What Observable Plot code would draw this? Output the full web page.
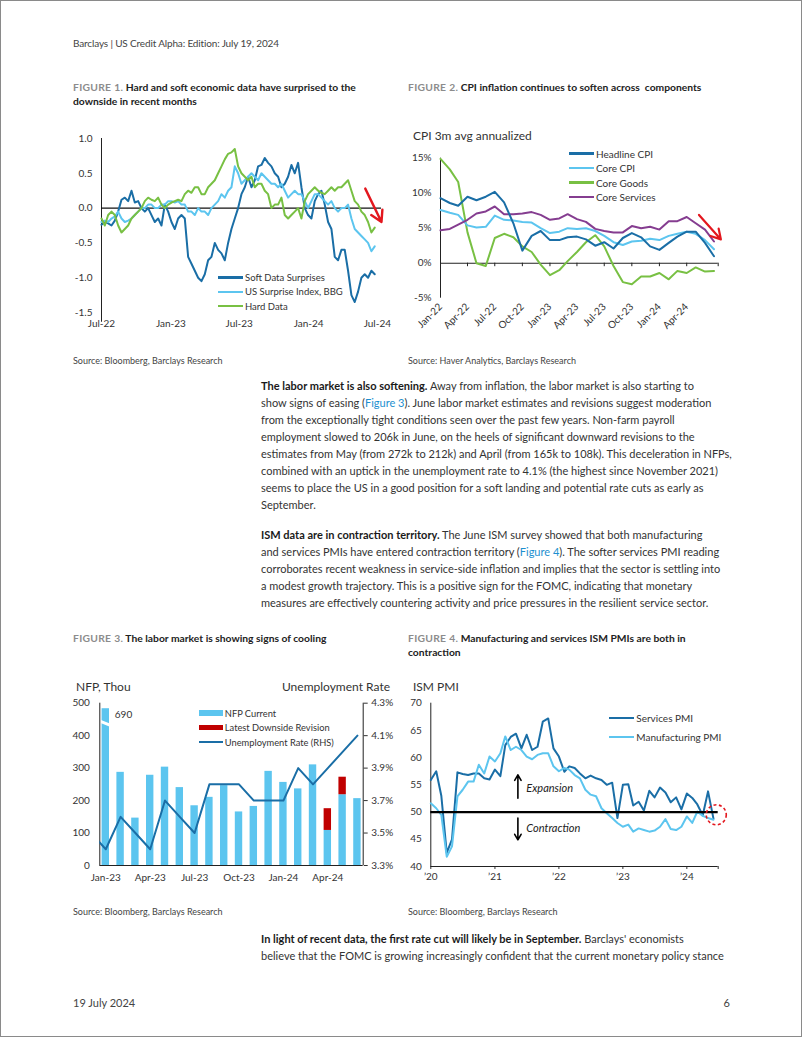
<!DOCTYPE html>
<html>
<head>
<meta charset="utf-8">
<script src="https://cdn.jsdelivr.net/npm/d3@7"></script>
<script src="https://cdn.jsdelivr.net/npm/@observablehq/plot@0.6"></script>
<style>
html, body { margin:0; padding:0; background:#fff; }
#page { position:relative; width:802px; height:1037px; box-sizing:border-box; border:1px solid #8a8a8a; overflow:hidden; font-family:Lato, "Open Sans", sans-serif; color:#333; background:#fff; }
.t { position:absolute; white-space:nowrap; }
.hdr { font-size:10px; letter-spacing:-0.15px; color:#444; line-height:14px; }
.ftitle { font-size:10.3px; font-weight:700; color:#222; line-height:14px; }
.ftitle .fig { color:#8c8c8c; letter-spacing:0.3px; }
.src { font-size:9px; color:#444; line-height:12px; }
.body { font-size:11px; line-height:17px; color:#333; }
.body b { color:#1a1a1a; }
.body a { color:#1d8fcf; text-decoration:none; }
.chart { position:absolute; }
.axt { font-size:12px; color:#333; line-height:14px; }
.legend { position:absolute; color:#333; }
.legend .row { display:flex; align-items:center; white-space:nowrap; }
.legend .sw { display:inline-block; margin-right:2px; }
</style>
</head>
<body>
<div id="page">
  <div class="t hdr" style="left:72px;top:35px;">Barclays | US Credit Alpha: Edition: July 19, 2024</div>

  <div class="t ftitle" style="left:72px;top:79px;"><span class="fig">FIGURE 1.</span> Hard and soft economic data have surprised to the<br>downside in recent months</div>
  <div class="t ftitle" style="left:407px;top:79px;"><span class="fig">FIGURE 2.</span> CPI inflation continues to soften across&nbsp; components</div>
  <div class="t axt" style="left:412px;top:128px;">CPI 3m avg annualized</div>

  <div class="t src" style="left:72px;top:354px;">Source: Bloomberg, Barclays Research</div>
  <div class="t src" style="left:407px;top:354px;">Source: Haver Analytics, Barclays Research</div>

  <div class="t body" style="left:260px;top:376px;"><b>The labor market is also softening.</b> Away from inflation, the labor market is also starting to<br>show signs of easing (<a>Figure 3</a>). June labor market estimates and revisions suggest moderation<br>from the exceptionally tight conditions seen over the past few years. Non-farm payroll<br>employment slowed to 206k in June, on the heels of significant downward revisions to the<br>estimates from May (from 272k to 212k) and April (from 165k to 108k). This deceleration in NFPs,<br>combined with an uptick in the unemployment rate to 4.1% (the highest since November 2021)<br>seems to place the US in a good position for a soft landing and potential rate cuts as early as<br>September.</div>

  <div class="t body" style="left:260px;top:525px;"><b>ISM data are in contraction territory.</b> The June ISM survey showed that both manufacturing<br>and services PMIs have entered contraction territory (<a>Figure 4</a>). The softer services PMI reading<br>corroborates recent weakness in service-side inflation and implies that the sector is settling into<br>a modest growth trajectory. This is a positive sign for the FOMC, indicating that monetary<br>measures are effectively countering activity and price pressures in the resilient service sector.</div>

  <div class="t ftitle" style="left:72px;top:630px;"><span class="fig">FIGURE 3.</span> The labor market is showing signs of cooling</div>
  <div class="t ftitle" style="left:407px;top:630px;"><span class="fig">FIGURE 4.</span> Manufacturing and services ISM PMIs are both in<br>contraction</div>
  <div class="t axt" style="left:75px;top:679px;">NFP, Thou</div>
  <div class="t axt" style="right:411px;top:679px;">Unemployment Rate</div>
  <div class="t axt" style="left:412px;top:679px;">ISM PMI</div>

  <div class="t src" style="left:72px;top:905px;">Source: Bloomberg, Barclays Research</div>
  <div class="t src" style="left:407px;top:905px;">Source: Bloomberg, Barclays Research</div>

  <div class="t body" style="left:260px;top:929px;"><b>In light of recent data, the first rate cut will likely be in September.</b> Barclays' economists<br>believe that the FOMC is growing increasingly confident that the current monetary policy stance</div>

  <div class="t" style="left:72px;top:995px;font-size:11px;color:#444;">19 July 2024</div>
  <div class="t" style="right:71px;top:995px;font-size:11px;color:#444;">6</div>

  <div id="fig1" class="chart" style="left:60px;top:120px;"></div>
  <div id="fig2" class="chart" style="left:400px;top:140px;"></div>
  <div id="fig3" class="chart" style="left:60px;top:690px;"></div>
  <div id="fig4" class="chart" style="left:400px;top:695px;"></div>
</div>

<script>
// ---------------- DATA ----------------
const COLORS = {dark: "#1a6ea6", light: "#5cc5ef", green: "#78c043", purple: "#853d90", red: "#e3171e", revision: "#c00000"};

// Figure 1: surprise indices, sampled roughly every 9 days from Jul-2022
const fig1Start = "2022-07-01";
const fig1StepDays = 8.83;
const fig1XDomain = ["2022-07-01", "2024-07-12"];
const fig1TickLabels = ["Jul-22", "Jan-23", "Jul-23", "Jan-24", "Jul-24"];
const fig1YTicks = [-1.5, -1.0, -0.5, 0.0, 0.5, 1.0];
const fig1Series = ["Soft Data Surprises", "US Surprise Index, BBG", "Hard Data"];
const softData = [-0.24,-0.2,-0.22,-0.25,-0.18,-0.05,0.12,0.15,0.1,0.25,
  0.08,0.1,0.0,-0.05,0.0,-0.1,-0.2,-0.15,-0.25,0.05,
  -0.05,-0.2,-0.3,-0.15,-0.1,-0.15,-0.7,-0.8,-0.9,-1.0,
  -1.05,-0.95,-0.75,-0.7,-0.5,-0.6,-0.65,-0.75,-0.5,-0.3,
  -0.15,0.0,0.2,0.3,0.45,0.3,0.4,0.6,0.62,0.72,
  0.65,0.6,0.5,0.45,0.3,0.35,0.45,0.62,0.5,0.65,
  0.3,0.0,-0.1,-0.15,0.1,0.2,0.25,0.05,-0.2,-0.3,
  -0.7,-0.75,-0.6,-0.6,-0.9,-1.25,-1.35,-1.2,-1.0,-0.95,
  -1.0,-0.9,-0.95];
const usSurprise = [-0.2,-0.18,-0.2,-0.15,-0.12,-0.05,-0.15,-0.2,-0.18,-0.15,
  -0.1,-0.05,0.0,0.0,0.05,0.05,0.0,0.0,0.05,0.05,
  0.1,0.1,0.08,0.1,0.05,0.05,-0.05,-0.05,-0.1,0.0,
  -0.05,-0.05,-0.1,0.0,0.05,0.1,0.2,0.15,0.25,0.3,
  0.6,0.5,0.35,0.4,0.45,0.5,0.45,0.4,0.5,0.45,
  0.4,0.35,0.35,0.3,0.35,0.25,0.15,0.2,0.25,0.2,
  0.2,0.1,0.0,0.1,0.2,0.2,0.15,0.1,0.05,0.1,
  0.0,-0.05,0.0,0.0,0.05,-0.15,-0.3,-0.35,-0.4,-0.45,
  -0.5,-0.62,-0.55];
const hardData = [-0.15,-0.25,-0.1,-0.05,-0.1,-0.25,-0.35,-0.3,-0.25,-0.15,
  -0.1,-0.05,0.0,0.1,0.15,0.12,0.1,0.15,0.05,0.0,
  0.05,0.08,0.1,0.12,0.1,0.2,0.25,0.22,0.3,0.3,
  0.2,0.2,0.3,0.35,0.4,0.5,0.6,0.7,0.78,0.8,
  0.85,0.6,0.5,0.45,0.4,0.45,0.3,0.35,0.35,0.25,
  0.2,0.0,0.05,0.05,0.15,-0.1,-0.15,-0.1,-0.05,0.0,
  -0.15,0.1,0.2,0.25,0.3,0.25,0.22,0.2,0.25,0.3,
  0.25,0.3,0.3,0.35,0.4,0.25,0.1,0.05,-0.05,-0.1,
  -0.2,-0.35,-0.28];
const fig1Arrow = {x1: "2024-05-30", y1: 0.28, x2: "2024-07-12", y2: -0.2};

// Figure 2: CPI 3m avg annualized, monthly Jan-22 .. Jul-24
const fig2Start = "2022-01-01";
const fig2XDomain = ["2022-01-01", "2024-07-15"];
const fig2TickLabels = ["Jan-22","Apr-22","Jul-22","Oct-22","Jan-23","Apr-23","Jul-23","Oct-23","Jan-24","Apr-24"];
const fig2YTicks = [-5, 0, 5, 10, 15];
const fig2Series = ["Headline CPI", "Core CPI", "Core Goods", "Core Services"];
const headlineCPI = [9.3,8.6,8.2,9.5,9.0,9.5,10.2,8.7,5.7,1.8,3.9,4.6,3.3,3.3,3.7,3.8,3.4,2.5,3.0,2.1,3.6,4.3,3.7,2.4,1.9,2.9,3.8,4.5,4.5,2.9,1.0];
const coreCPI = [7.6,7.2,6.9,5.4,5.1,5.2,6.8,6.2,6.1,5.9,5.8,5.0,4.3,4.5,5.0,4.9,5.0,4.6,3.9,3.0,2.6,3.1,3.2,3.5,3.3,3.9,4.2,4.5,4.2,3.3,2.0];
const coreGoods = [14.9,13.4,11.6,4.4,0.0,-0.4,3.6,4.2,3.7,2.4,1.6,-0.2,-1.7,-1.0,0.3,1.6,3.0,4.0,2.4,-0.4,-2.7,-3.0,-1.9,-1.9,-1.4,-2.3,-1.1,-1.4,-0.6,-1.2,-1.1];
const coreServices = [4.7,4.9,5.5,6.2,7.1,7.4,8.1,7.0,7.0,7.1,7.3,6.9,6.2,6.4,7.0,6.3,5.9,4.9,4.6,4.4,4.4,5.3,5.0,5.2,4.8,6.0,6.0,6.6,5.7,4.8,3.1];
const fig2Arrow = {x1: "2024-05-12", y1: 6.9, x2: "2024-07-24", y2: 3.4};

// Figure 3: NFP (thousands) and unemployment rate
const nfpMonths = ["Jan-23","Feb-23","Mar-23","Apr-23","May-23","Jun-23","Jul-23","Aug-23","Sep-23","Oct-23","Nov-23","Dec-23","Jan-24","Feb-24","Mar-24","Apr-24","May-24","Jun-24"];
const nfpCurrent = [690,287,146,278,303,240,184,210,246,165,182,290,256,236,310,108,218,206];
const revisionMonths = ["Apr-24", "May-24"];
const revisionFrom = [175, 272];
const nfpBrokenBarTop = 483;      // bar drawn with an axis break
const nfpBreak = [445, 430];      // break band on the broken bar
const urMonths = ["Dec-22"].concat(nfpMonths);
const unemploymentRate = [3.5,3.4,3.6,3.5,3.4,3.7,3.6,3.5,3.8,3.8,3.8,3.7,3.7,3.7,3.9,3.8,3.9,4.0,4.1];
const nfpYTicks = [0, 100, 200, 300, 400, 500];
const urTicks = [3.3, 3.5, 3.7, 3.9, 4.1, 4.3];
const nfpTickMonths = ["Jan-23","Apr-23","Jul-23","Oct-23","Jan-24","Apr-24"];
const fig3Series = ["NFP Current", "Latest Downside Revision", "Unemployment Rate (RHS)"];

// Figure 4: ISM PMIs monthly Jan-2020 .. Jun-2024
const fig4Start = "2020-01-01";
const fig4XDomain = ["2020-01-01", "2024-06-28"];
const fig4TickYears = ["2020","2021","2022","2023","2024"];
const fig4YTicks = [40, 45, 50, 55, 60, 65, 70];
const fig4Series = ["Services PMI", "Manufacturing PMI"];
const servicesPMI = [55.9,57.5,53.0,42.5,45.0,57.3,57.0,56.8,57.1,57.1,56.2,56.0,
  57.8,56.6,62.3,63.8,64.4,61.7,64.2,61.4,62.0,66.6,67.2,61.7,
  60.2,57.4,58.4,58.1,57.1,56.2,56.7,56.2,55.9,55.0,55.4,48.9,
  55.0,55.1,51.2,51.9,50.3,53.9,52.7,54.5,53.6,51.8,52.7,50.5,
  53.4,52.6,51.4,49.4,53.8,48.8];
const manufacturingPMI = [51.6,50.7,49.5,41.8,43.7,52.9,54.1,55.6,55.6,58.7,57.1,60.2,
  59.3,60.8,63.9,61.4,62.0,61.4,60.2,59.7,60.5,60.8,60.8,58.4,
  57.5,58.1,57.8,56.8,56.2,54.1,53.2,52.9,50.7,49.8,48.9,48.0,
  47.3,47.7,46.4,47.0,46.7,46.4,46.6,47.3,48.7,46.9,46.7,47.3,
  49.2,48.0,50.1,49.3,48.9,48.6];
const fig4Notes = [
  {label: "Expansion", x: "2021-06-29", y: 54.4, arrowFrom: 52.55, arrowTo: 56.85},
  {label: "Contraction", x: "2021-06-29", y: 47.0, arrowFrom: 48.88, arrowTo: 44.9}
];
const fig4NoteArrowX = "2021-05-12";
const fig4Circle = {x: "2024-06-17", y: 49.5};

// ---------------- HELPERS ----------------
const D = s => new Date(s + "T00:00:00Z");
const parseMonY = d3.utcParse("%b-%y");
const fmtMonY = d3.utcFormat("%b-%y");
const baseStyle = {fontFamily: "Lato, sans-serif", fontSize: "10px", color: "#333", background: "transparent", overflow: "visible"};
const page = document.getElementById("page");

function addLegend(left, top, rowH, fontSize, swW, items) {
  const box = document.createElement("div");
  box.className = "legend";
  box.style.left = left + "px";
  box.style.top = top + "px";
  box.style.fontSize = fontSize + "px";
  for (const it of items) {
    const row = document.createElement("div");
    row.className = "row";
    row.style.height = rowH + "px";
    const sw = document.createElement("span");
    sw.className = "sw";
    sw.style.width = swW + "px";
    sw.style.height = it.h + "px";
    sw.style.background = it.color;
    row.appendChild(sw);
    row.appendChild(document.createTextNode(it.label));
    box.appendChild(row);
  }
  page.appendChild(box);
}

// ---------------- FIGURE 1 ----------------
{
  const t0 = D(fig1Start);
  const rows = softData.map((v, i) => ({
    date: new Date(+t0 + i * fig1StepDays * 864e5),
    soft: v, us: usSurprise[i], hard: hardData[i]
  }));
  const chart = Plot.plot({
    width: 340, height: 215,
    marginLeft: 40, marginRight: 20, marginTop: 17, marginBottom: 24,
    style: baseStyle,
    x: {type: "utc", domain: fig1XDomain.map(D), label: null},
    y: {domain: [-1.5, 1.0], label: null},
    marks: [
      Plot.axisX({ticks: fig1TickLabels.map(parseMonY), tickFormat: fmtMonY, tickSize: 0, tickPadding: 7}),
      Plot.axisY({ticks: fig1YTicks, tickFormat: v => v.toFixed(1), tickSize: 0, tickPadding: 9}),
      Plot.ruleX([D(fig1XDomain[0])], {y1: -1.64, y2: 1.0, stroke: "#222", strokeWidth: 1}),
      Plot.ruleY([0], {stroke: "#111", strokeWidth: 1.3}),
      Plot.line(rows, {x: "date", y: "soft", stroke: COLORS.dark, strokeWidth: 2}),
      Plot.line(rows, {x: "date", y: "us", stroke: COLORS.light, strokeWidth: 2}),
      Plot.line(rows, {x: "date", y: "hard", stroke: COLORS.green, strokeWidth: 2}),
      Plot.arrow([fig1Arrow], {x1: d => D(d.x1), y1: "y1", x2: d => D(d.x2), y2: "y2", stroke: COLORS.red, strokeWidth: 2.4, headLength: 9})
    ]
  });
  document.getElementById("fig1").appendChild(chart);
  addLegend(217, 269.5, 14.3, 9.5, 25, [
    {label: fig1Series[0], color: COLORS.dark, h: 2.5},
    {label: fig1Series[1], color: COLORS.light, h: 2.5},
    {label: fig1Series[2], color: COLORS.green, h: 2.5}
  ]);
}

// ---------------- FIGURE 2 ----------------
{
  const months = d3.utcMonth.range(D(fig2Start), d3.utcMonth.offset(D(fig2Start), headlineCPI.length));
  const rows = months.map((m, i) => ({date: m, headline: headlineCPI[i], core: coreCPI[i], goods: coreGoods[i], services: coreServices[i]}));
  const ticks = fig2TickLabels.map(parseMonY);
  const chart = Plot.plot({
    width: 340, height: 200,
    marginLeft: 39, marginRight: 23.3, marginTop: 16.7, marginBottom: 43.3,
    style: baseStyle,
    x: {type: "utc", domain: fig2XDomain.map(D), label: null},
    y: {domain: [-5, 15], label: null},
    marks: [
      Plot.axisX({ticks, tickFormat: fmtMonY, tickRotate: -45, tickSize: 0, tickPadding: 7}),
      Plot.axisY({ticks: fig2YTicks, tickFormat: v => v + "%", tickSize: 0, tickPadding: 9}),
      Plot.ruleX([D(fig2XDomain[0])], {y1: -5, y2: 15, stroke: "#222"}),
      Plot.ruleY([0], {stroke: "#222", strokeWidth: 1.1}),
      Plot.ruleX(ticks.concat([D(fig2XDomain[1])]), {y1: 0, y2: -0.5, stroke: "#222"}),
      Plot.line(rows, {x: "date", y: "goods", stroke: COLORS.green, strokeWidth: 2}),
      Plot.line(rows, {x: "date", y: "core", stroke: COLORS.light, strokeWidth: 2}),
      Plot.line(rows, {x: "date", y: "services", stroke: COLORS.purple, strokeWidth: 2}),
      Plot.line(rows, {x: "date", y: "headline", stroke: COLORS.dark, strokeWidth: 2}),
      Plot.arrow([fig2Arrow], {x1: d => D(d.x1), y1: "y1", x2: d => D(d.x2), y2: "y2", stroke: COLORS.red, strokeWidth: 2.2, headLength: 8})
    ]
  });
  document.getElementById("fig2").appendChild(chart);
  addLegend(568, 145.3, 14.5, 10, 25, [
    {label: fig2Series[0], color: COLORS.dark, h: 2.5},
    {label: fig2Series[1], color: COLORS.light, h: 2.5},
    {label: fig2Series[2], color: COLORS.green, h: 2.5},
    {label: fig2Series[3], color: COLORS.purple, h: 2.5}
  ]);
}

// ---------------- FIGURE 3 ----------------
{
  const urToY = d3.scaleLinear().domain([urTicks[0], urTicks[urTicks.length - 1]]).range([0, 500]);
  const xDomain = [-0.405, 17.39];
  const bars = nfpMonths.map((m, i) => ({i, m, v: nfpCurrent[i]}));
  const revs = revisionMonths.map((m, k) => {
    const i = nfpMonths.indexOf(m);
    return {i, from: revisionFrom[k], to: nfpCurrent[i]};
  });
  const ur = urMonths.map((m, k) => ({i: k - 1, v: unemploymentRate[k]}));
  const broken = bars.filter(b => b.v > nfpYTicks[nfpYTicks.length - 1]);
  const chart = Plot.plot({
    width: 340, height: 200,
    marginLeft: 38.3, marginRight: 38.3, marginTop: 11.7, marginBottom: 26,
    style: baseStyle,
    x: {type: "linear", domain: xDomain, label: null},
    y: {domain: [0, 500], label: null},
    marks: [
      Plot.axisX({ticks: nfpTickMonths.map(m => nfpMonths.indexOf(m)), tickFormat: i => nfpMonths[i], tickSize: 0, tickPadding: 8}),
      Plot.axisY({ticks: nfpYTicks, tickSize: 0, tickPadding: 10}),
      Plot.axisY(urTicks.map(v => urToY(v)), {anchor: "right", tickFormat: y => urToY.invert(y).toFixed(1) + "%", tickSize: 4, tickPadding: 4}),
      Plot.rect(bars, {x1: d => d.i - 0.25, x2: d => d.i + 0.25, y1: 0, y2: d => Math.min(d.v, nfpBrokenBarTop), fill: COLORS.light}),
      Plot.rect(revs, {x1: d => d.i - 0.25, x2: d => d.i + 0.25, y1: "to", y2: "from", fill: COLORS.revision}),
      Plot.link(broken, {x1: d => d.i - 0.4, x2: d => d.i + 0.4, y1: nfpBreak[0], y2: nfpBreak[1], stroke: "#fff", strokeWidth: 3}),
      Plot.text(broken, {x: "i", y: nfpBrokenBarTop, text: d => String(d.v), dx: 9, dy: 6, textAnchor: "start", fontSize: 10, fill: "#333"}),
      Plot.ruleX([xDomain[0], xDomain[1]], {y1: 0, y2: 500, stroke: "#222"}),
      Plot.ruleY([0], {stroke: "#222"}),
      Plot.line(ur, {x: "i", y: d => urToY(d.v), stroke: COLORS.dark, strokeWidth: 2, clip: true})
    ]
  });
  document.getElementById("fig3").appendChild(chart);
  addLegend(198.3, 704.8, 14.5, 9.3, 23.5, [
    {label: fig3Series[0], color: COLORS.light, h: 5.5},
    {label: fig3Series[1], color: COLORS.revision, h: 5.5},
    {label: fig3Series[2], color: COLORS.dark, h: 2.2}
  ]);
}

// ---------------- FIGURE 4 ----------------
{
  const months = d3.utcMonth.range(D(fig4Start), d3.utcMonth.offset(D(fig4Start), servicesPMI.length));
  const rows = months.map((m, i) => ({date: m, services: servicesPMI[i], manuf: manufacturingPMI[i]}));
  const yearTicks = fig4TickYears.map(y => D(y + "-01-01"));
  const chart = Plot.plot({
    width: 340, height: 195,
    marginLeft: 29.3, marginRight: 23.3, marginTop: 6.7, marginBottom: 25,
    style: baseStyle,
    x: {type: "utc", domain: fig4XDomain.map(D), label: null},
    y: {domain: [40, 70], label: null},
    marks: [
      Plot.axisX({ticks: yearTicks.concat([D(fig4XDomain[1])]), tickFormat: d => fig4TickYears.includes(d3.utcFormat("%Y")(d)) && +d === +D(d3.utcFormat("%Y")(d) + "-01-01") ? "\u2019" + d3.utcFormat("%y")(d) : "", tickSize: 3, tickPadding: 3}),
      Plot.axisY({ticks: fig4YTicks, tickSize: 0, tickPadding: 9}),
      Plot.ruleX([D(fig4XDomain[0])], {y1: 40, y2: 70, stroke: "#222"}),
      Plot.ruleY([40], {stroke: "#222"}),
      Plot.line(rows, {x: "date", y: "services", stroke: COLORS.dark, strokeWidth: 2}),
      Plot.line(rows, {x: "date", y: "manuf", stroke: COLORS.light, strokeWidth: 2}),
      Plot.ruleY([50], {stroke: "#000", strokeWidth: 2.2}),
      Plot.arrow(fig4Notes, {x1: () => D(fig4NoteArrowX), x2: () => D(fig4NoteArrowX), y1: "arrowFrom", y2: "arrowTo", stroke: "#000", strokeWidth: 1.6, headLength: 6}),
      Plot.text(fig4Notes, {x: d => D(d.x), y: "y", text: "label", textAnchor: "start", fontStyle: "italic", fontSize: 11, fill: "#222"}),
      Plot.dot([fig4Circle], {x: d => D(d.x), y: "y", r: 10, stroke: COLORS.red, strokeWidth: 1.6, strokeDasharray: "3,2.5", fill: "none"})
    ]
  });
  document.getElementById("fig4").appendChild(chart);
  addLegend(608.3, 707.3, 19, 10, 25, [
    {label: fig4Series[0], color: COLORS.dark, h: 2.5},
    {label: fig4Series[1], color: COLORS.light, h: 2.5}
  ]);
}
</script>
</body>
</html>
